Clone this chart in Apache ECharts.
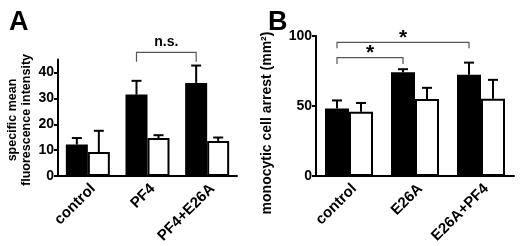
<!DOCTYPE html>
<html>
<head>
	<meta charset="utf-8"/>
	<title>bars</title>
	<style>
		* { margin: 0; padding: 0; }
		body { background: #fff; }
		#chart { width: 520px; height: 246px; }
	</style>
</head>
<body>
	<div id="chart"></div>
	<script src="https://cdn.jsdelivr.net/npm/echarts@6/dist/echarts.min.js"></script>
	<script>
		// panel A
		var catsA = ['control', 'PF4', 'PF4+E26A'];
		var blackA = [12.2, 31.5, 36.0];
		var blackErrA = [14.7, 36.8, 42.7];
		var whiteA = [9.3, 14.7, 13.6];
		var whiteErrA = [17.5, 15.8, 14.9];
		// bracket: from cat, to cat, level, tick end, label
		var bracketsA = [[1, 2, 47.8, 44.2, 'n.s.']];

		// panel B
		var catsB = ['control', 'E26A', 'E26A+PF4'];
		var blackB = [48.3, 74.2, 72.3];
		var blackErrB = [54.0, 76.3, 81.0];
		var whiteB = [46.0, 55.0, 55.2];
		var whiteErrB = [52.2, 63.0, 68.7];
		var bracketsB = [[0, 1, 84.6, 80.0, '*'], [0, 2, 95.5, 91.3, '*']];

		var FONT = 'Liberation Sans';
		var bwA = 22, bwB = 24;

		var myChart = echarts.init(document.getElementById('chart'));

		function errData(vals, errs) {
			return vals.map(function (v, i) { return [i, v, errs[i]]; });
		}

		// error bar, only the upper half, with a cap
		function errRender(side, bw) {
			return function (params, api) {
				var x = api.value(0);
				var p0 = api.coord([x, api.value(1)]);
				var p1 = api.coord([x, api.value(2)]);
				var cx = p0[0] + side * bw / 2;
				var half = 5;
				return {
					type: 'group',
					children: [
						{ type: 'line', shape: { x1: cx, y1: p0[1], x2: cx, y2: p1[1] }, style: { stroke: '#000', lineWidth: 2 } },
						{ type: 'line', shape: { x1: cx - half, y1: p1[1], x2: cx + half, y2: p1[1] }, style: { stroke: '#000', lineWidth: 2 } }
					]
				};
			};
		}

		// significance bracket between the black bars of two groups
		function bracketRender(bw, size, lift) {
			return function (params, api) {
				var a = api.coord([api.value(0), api.value(2)]);
				var b = api.coord([api.value(1), api.value(2)]);
				var e = api.coord([api.value(0), api.value(3)]);
				var x1 = a[0] - bw / 2, x2 = b[0] - bw / 2;
				return {
					type: 'group',
					children: [
						{ type: 'polyline', shape: { points: [[x1, e[1]], [x1, a[1]], [x2, a[1]], [x2, e[1]]] },
							style: { stroke: '#555', lineWidth: 1.2, fill: null } },
						{ type: 'text', x: (x1 + x2) / 2, y: a[1] - lift,
							style: { text: api.value(4), textAlign: 'center', textVerticalAlign: 'middle',
								font: 'bold ' + size + 'px ' + FONT, fill: '#000' } }
					]
				};
			};
		}

		function xAxis(idx, cats) {
			return {
				type: 'category', gridIndex: idx, data: cats,
				axisLine: { lineStyle: { color: '#000', width: 2 } },
				axisTick: { alignWithLabel: true, length: 4, lineStyle: { color: '#000', width: 2 } },
				axisLabel: { rotate: 45, margin: 5, verticalAlign: 'top', color: '#000',
					fontFamily: FONT, fontWeight: 'bold', fontSize: 15 }
			};
		}

		function yAxis(idx, max, interval) {
			return {
				type: 'value', gridIndex: idx, min: 0, max: max, interval: interval,
				splitLine: { show: false },
				axisLine: { show: true, lineStyle: { color: '#000', width: 2 } },
				axisTick: { show: true, length: 4, lineStyle: { color: '#000', width: 2 } },
				axisLabel: { margin: 4, color: '#000', fontFamily: FONT, fontWeight: 'bold', fontSize: 14 }
			};
		}

		function vText(txt, x, y, size) {
			return { type: 'text', x: x, y: y, rotation: Math.PI / 2,
				style: { text: txt, textAlign: 'center', textVerticalAlign: 'middle',
					font: 'bold ' + size + 'px ' + FONT, fill: '#000' } };
		}

		var barStyleBlack = { color: '#000', borderColor: '#000', borderWidth: 1.5 };
		var barStyleWhite = { color: '#fff', borderColor: '#000', borderWidth: 2 };

		var option = {
			animation: false,
			title: [
				{ text: 'A', left: 4, top: 4, textStyle: { fontFamily: FONT, fontWeight: 'bold', fontSize: 27, color: '#000' } },
				{ text: 'B', left: 263, top: 4, textStyle: { fontFamily: FONT, fontWeight: 'bold', fontSize: 27, color: '#000' } }
			],
			graphic: [
				vText('specific mean', 13, 120, 12.5),
				vText('fluorescence intensity', 27, 120, 12.5),
				vText('monocytic cell arrest (mm²)', 267, 123, 14)
			],
			grid: [
				{ left: 58, width: 179, top: 59.6, bottom: 68.3 },
				{ left: 316, width: 198, top: 36, bottom: 69.3 }
			],
			xAxis: [xAxis(0, catsA), xAxis(1, catsB)],
			yAxis: [yAxis(0, 45, 10), yAxis(1, 100, 50)],
			series: [
				{ type: 'bar', xAxisIndex: 0, yAxisIndex: 0, data: blackA, barWidth: bwA, barGap: '0%', itemStyle: barStyleBlack },
				{ type: 'bar', xAxisIndex: 0, yAxisIndex: 0, data: whiteA, barWidth: bwA, barGap: '0%', itemStyle: barStyleWhite },
				{ type: 'custom', xAxisIndex: 0, yAxisIndex: 0, data: errData(blackA, blackErrA), renderItem: errRender(-1, bwA), z: 1 },
				{ type: 'custom', xAxisIndex: 0, yAxisIndex: 0, data: errData(whiteA, whiteErrA), renderItem: errRender(1, bwA), z: 1 },
				{ type: 'custom', xAxisIndex: 0, yAxisIndex: 0, data: bracketsA, renderItem: bracketRender(bwA, 14, 10.5), clip: false },

				{ type: 'bar', xAxisIndex: 1, yAxisIndex: 1, data: blackB, barWidth: bwB, barGap: '0%', itemStyle: barStyleBlack },
				{ type: 'bar', xAxisIndex: 1, yAxisIndex: 1, data: whiteB, barWidth: bwB, barGap: '0%', itemStyle: barStyleWhite },
				{ type: 'custom', xAxisIndex: 1, yAxisIndex: 1, data: errData(blackB, blackErrB), renderItem: errRender(-1, bwB), z: 1 },
				{ type: 'custom', xAxisIndex: 1, yAxisIndex: 1, data: errData(whiteB, whiteErrB), renderItem: errRender(1, bwB), z: 1 },
				{ type: 'custom', xAxisIndex: 1, yAxisIndex: 1, data: bracketsB, renderItem: bracketRender(bwB, 21, 4), clip: false }
			]
		};

		myChart.setOption(option);
	</script>
</body>
</html>
